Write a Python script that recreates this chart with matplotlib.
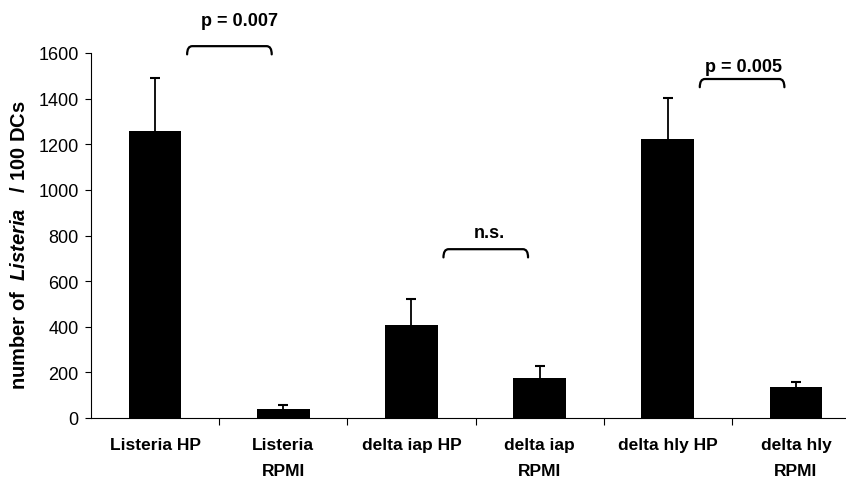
import matplotlib
matplotlib.use('Agg')
import matplotlib.pyplot as plt
from matplotlib.path import Path
from matplotlib.patches import PathPatch
import numpy as np

# values
groups = ['Listeria HP', 'Listeria\nRPMI', 'delta iap HP', 'delta iap\nRPMI',
          'delta hly HP', 'delta hly\nRPMI']
means = [1258, 39, 409, 177, 1225, 136]
errs = [234, 19, 113, 52, 176, 21]
yticks = [0, 200, 400, 600, 800, 1000, 1200, 1400, 1600]

# significance brackets: (left bar, right bar, bracket height, text x, text baseline, label)
pairs = [(0, 1, 1630, 0.66, 1723, 'p = 0.007'),
         (2, 3, 740, 2.61, 793, 'n.s.'),
         (4, 5, 1486, 4.59, 1521, 'p = 0.005')]

plt.rcParams['font.family'] = 'Liberation Sans'
plt.rcParams['mathtext.fontset'] = 'custom'
plt.rcParams['mathtext.rm'] = 'Liberation Sans:bold'
plt.rcParams['mathtext.it'] = 'Liberation Sans:bold:italic'


def bracket(ax, x0, x1, y, drop, dx):
    verts = [(x0, y - drop), (x0, y), (x0 + dx, y),
             (x1 - dx, y), (x1, y), (x1, y - drop)]
    codes = [Path.MOVETO, Path.CURVE3, Path.CURVE3,
             Path.LINETO, Path.CURVE3, Path.CURVE3]
    p = PathPatch(Path(verts, codes), facecolor='none', edgecolor='black',
                  lw=1.6, clip_on=False, capstyle='round')
    ax.add_patch(p)


fig = plt.figure(figsize=(8.46, 4.85), dpi=100)
ax = fig.add_axes([91/846, 66/485, 769/846, 365/485])

x = np.arange(len(groups))
ax.bar(x, means, width=0.41, color='black', zorder=2)
eb = ax.errorbar(x, means, yerr=[np.zeros(len(errs)), errs], fmt='none',
                 ecolor='black', elinewidth=1.3, capsize=3.3, capthick=1.5, zorder=3)
eb[1][0].set_visible(False)  # no cap at the bar top

ax.set_xlim(-0.5, len(groups) - 0.5)
ax.set_ylim(0, 1600)
ax.set_yticks(yticks)
ax.tick_params(axis='y', direction='out', length=4, width=0.8, labelsize=13, pad=5)

ax.set_xticks(x)
ax.set_xticklabels(groups, fontweight='bold', fontsize=12.5, linespacing=1.85)
ax.set_xticks(x[:-1] + 0.5, minor=True)
ax.tick_params(axis='x', which='major', length=0, pad=14)
ax.tick_params(axis='x', which='minor', direction='out', length=5, width=0.8)

ax.spines['top'].set_visible(False)
ax.spines['right'].set_visible(False)
ax.spines['left'].set_linewidth(0.8)
ax.spines['bottom'].set_linewidth(0.8)

ax.set_ylabel(r'number of  $Listeria$   / 100 DCs', fontweight='bold', fontsize=14.5)
ax.yaxis.set_label_coords(-0.08, 0.475)

for a, b, h, tx, ty, txt in pairs:
    bracket(ax, a + 0.25, b - 0.09, h, 36, 0.04)
    ax.text(tx, ty, txt, ha='center', va='baseline',
            fontweight='bold', fontsize=13, clip_on=False)

fig.savefig('out.png', dpi=100)
